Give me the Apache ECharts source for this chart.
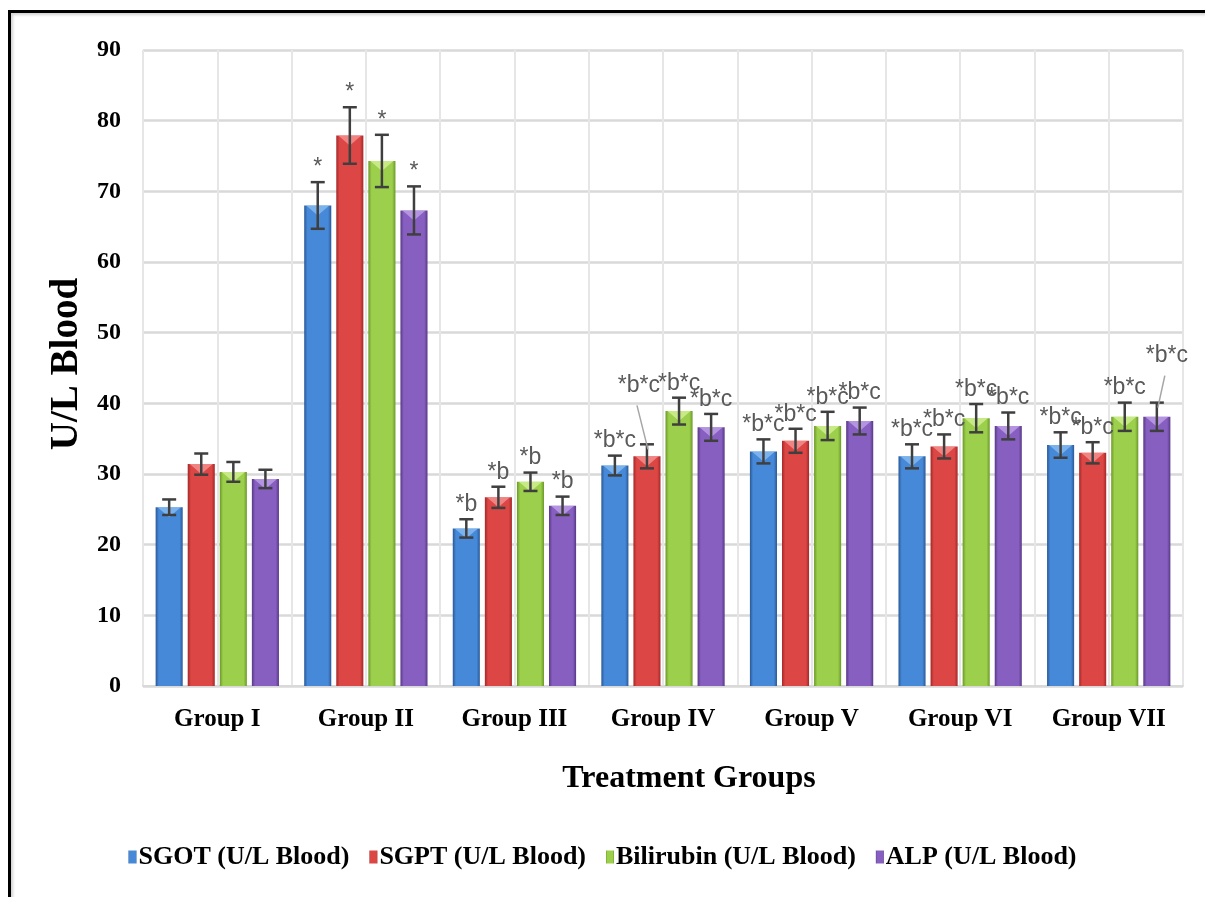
<!DOCTYPE html>
<html>
<head>
<meta charset="utf-8">
<script src="https://cdn.jsdelivr.net/npm/echarts@6/dist/echarts.min.js"></script>
<style>
  html, body { margin: 0; padding: 0; background: #fff; width: 1205px; height: 897px; overflow: hidden; }
  #frame { position: absolute; left: 8px; top: 10px; width: 1400px; height: 1000px;
           border: 3px solid #000; box-sizing: border-box;
           box-shadow: inset 2px 2px 3px rgba(0,0,0,0.18); }
  #chart { position: absolute; left: 0; top: 0; width: 1205px; height: 897px; }
</style>
</head>
<body>
<div id="frame"></div>
<div id="chart"></div>
<script>
// Treatment groups on the x axis
const groups = ['Group I', 'Group II', 'Group III', 'Group IV', 'Group V', 'Group VI', 'Group VII'];

// Mean values (U/L blood) and their error margins
const sgot         = [25.3, 68.0, 22.3, 31.2, 33.2, 32.5, 34.1];
const sgotErr      = [1.1, 3.3, 1.3, 1.4, 1.7, 1.7, 1.8];
const sgpt         = [31.4, 77.9, 26.7, 32.5, 34.7, 33.9, 33.0];
const sgptErr      = [1.5, 4.0, 1.5, 1.7, 1.7, 1.7, 1.5];
const bilirubin    = [30.3, 74.3, 28.9, 38.9, 36.8, 37.9, 38.1];
const bilirubinErr = [1.4, 3.7, 1.3, 1.9, 2.0, 2.0, 2.0];
const alp          = [29.3, 67.3, 25.5, 36.6, 37.5, 36.8, 38.1];
const alpErr       = [1.3, 3.4, 1.3, 1.9, 1.9, 1.9, 2.0];

// Significance marks written above each group's bars
const significance = ['', '*', '*b', '*b*c', '*b*c', '*b*c', '*b*c'];

const seriesNames = ['SGOT (U/L Blood)', 'SGPT (U/L Blood)', 'Bilirubin (U/L Blood)', 'ALP (U/L Blood)'];
const seriesValues = [sgot, sgpt, bilirubin, alp];
const seriesErrors = [sgotErr, sgptErr, bilirubinErr, alpErr];

// Bar shading: dark edge, light middle, dark edge
const palette = [
  { edge: '#2a5896', mid: '#4689d8', cap: '#8fc0f2' },
  { edge: '#a42828', mid: '#dc4644', cap: '#f59a98' },
  { edge: '#6b9828', mid: '#9ccf4b', cap: '#d7f39a' },
  { edge: '#583886', mid: '#865fc0', cap: '#c3a6ec' }
];

const CAT_GAP = 0.17;
const BAR_GAP = 0.185;

// Labels that were pulled away from their bar and get a leader line
const labelNudge = { '3-1': [-8, -44], '6-3': [10, -32] };

const serif = '"Liberation Serif", "Times New Roman", serif';

function shade(p) {
  return {
    type: 'linear', x: 0, y: 0, x2: 1, y2: 0,
    colorStops: [
      { offset: 0, color: p.edge },
      { offset: 0.12, color: p.mid },
      { offset: 0.88, color: p.mid },
      { offset: 1, color: p.edge }
    ]
  };
}

const barSeries = seriesNames.map((name, i) => ({
  name,
  type: 'bar',
  xAxisIndex: 0,
  yAxisIndex: 0,
  data: seriesValues[i],
  barCategoryGap: (CAT_GAP * 100) + '%',
  barGap: (BAR_GAP * 100) + '%',
  itemStyle: { color: shade(palette[i]) },
  z: 2
}));

// Error bars, top bevels and significance labels
const extras = [];
seriesValues.forEach((vals, si) => {
  vals.forEach((v, ci) => extras.push([ci, si, v, seriesErrors[si][ci]]));
});

function renderExtras(params, api) {
  const ci = api.value(0), si = api.value(1), val = api.value(2), err = api.value(3);
  const band = api.size([1, 0])[0];
  const inner = band * (1 - CAT_GAP);
  const bw = inner / (4 + 3 * BAR_GAP);
  const center = api.coord([ci, 0])[0];
  const x = center - inner / 2 + si * bw * (1 + BAR_GAP) + bw / 2;
  const top = api.coord([ci, val])[1];
  const hi = api.coord([ci, val + err])[1];
  const lo = api.coord([ci, val - err])[1];
  const capW = 7;
  const ink = '#3f3f3f';
  const children = [
    { type: 'polygon', shape: { points: [[x - bw / 2 + 2, top], [x + bw / 2 - 2, top], [x, top + 10]] },
      style: { fill: palette[si].cap, opacity: 0.75 } },
    { type: 'line', shape: { x1: x, y1: hi, x2: x, y2: lo }, style: { stroke: ink, lineWidth: 2.5 } },
    { type: 'line', shape: { x1: x - capW, y1: hi, x2: x + capW, y2: hi }, style: { stroke: ink, lineWidth: 2.5 } },
    { type: 'line', shape: { x1: x - capW, y1: lo, x2: x + capW, y2: lo }, style: { stroke: ink, lineWidth: 2.5 } }
  ];
  const text = significance[ci];
  if (text) {
    const nudge = labelNudge[ci + '-' + si] || [0, 0];
    const lx = x + nudge[0];
    const ly = hi - 3 + nudge[1];
    children.push({
      type: 'text',
      style: { text, x: lx, y: ly, align: 'center', verticalAlign: 'bottom',
               font: '23px "Liberation Sans", Arial, sans-serif', fill: '#595959' }
    });
    if (labelNudge[ci + '-' + si]) {
      children.push({ type: 'line', shape: { x1: lx - 2, y1: ly + 8, x2: x + 1, y2: hi + 5 },
                      style: { stroke: '#a6a6a6', lineWidth: 1.5 } });
    }
  }
  return { type: 'group', children };
}

const chart = echarts.init(document.getElementById('chart'), null, { renderer: 'canvas' });

chart.setOption({
  animation: false,
  backgroundColor: 'transparent',
  grid: { left: 143, right: 22, top: 50, bottom: 211 },
  legend: {
    data: seriesNames,
    bottom: 22,
    left: 'center',
    icon: 'rect',
    itemWidth: 8,
    itemHeight: 13,
    itemGap: 20,
    textStyle: { fontFamily: serif, fontWeight: 'bold', fontSize: 26, color: '#000', padding: [0, 0, 0, -3] }
  },
  xAxis: [
    {
      type: 'category',
      data: groups,
      axisLine: { show: true, lineStyle: { color: '#d9d9d9', width: 2 } },
      axisTick: { show: false },
      splitLine: { show: false },
      axisLabel: { fontFamily: serif, fontWeight: 'bold', fontSize: 25, color: '#000', margin: 21 },
      name: 'Treatment Groups',
      nameLocation: 'middle',
      nameGap: 77,
      nameTextStyle: { fontFamily: serif, fontWeight: 'bold', fontSize: 32, color: '#000', padding: [0, 0, 0, 52] }
    },
    {
      // half-group vertical grid lines
      type: 'value',
      min: 0, max: 14, interval: 1,
      position: 'top',
      axisLine: { show: false },
      axisTick: { show: false },
      axisLabel: { show: false },
      splitLine: { show: true, lineStyle: { color: '#e6e6e6', width: 2 } }
    }
  ],
  yAxis: {
    type: 'value',
    min: 0, max: 90, interval: 10,
    axisLine: { show: false },
    axisTick: { show: false },
    splitLine: { show: true, lineStyle: { color: '#d9d9d9', width: 2.5 } },
    axisLabel: { fontFamily: serif, fontWeight: 'bold', fontSize: 24, color: '#000', margin: 22 },
    name: 'U/L Blood',
    nameLocation: 'middle',
    nameGap: 57,
    nameTextStyle: { fontFamily: serif, fontWeight: 'bold', fontSize: 39, color: '#000', padding: [0, 0, 0, 8] }
  },
  series: [
    ...barSeries,
    {
      type: 'custom',
      xAxisIndex: 0,
      yAxisIndex: 0,
      data: extras,
      encode: { x: 0, y: 2 },
      renderItem: renderExtras,
      silent: true,
      z: 5
    }
  ]
});
</script>
</body>
</html>
